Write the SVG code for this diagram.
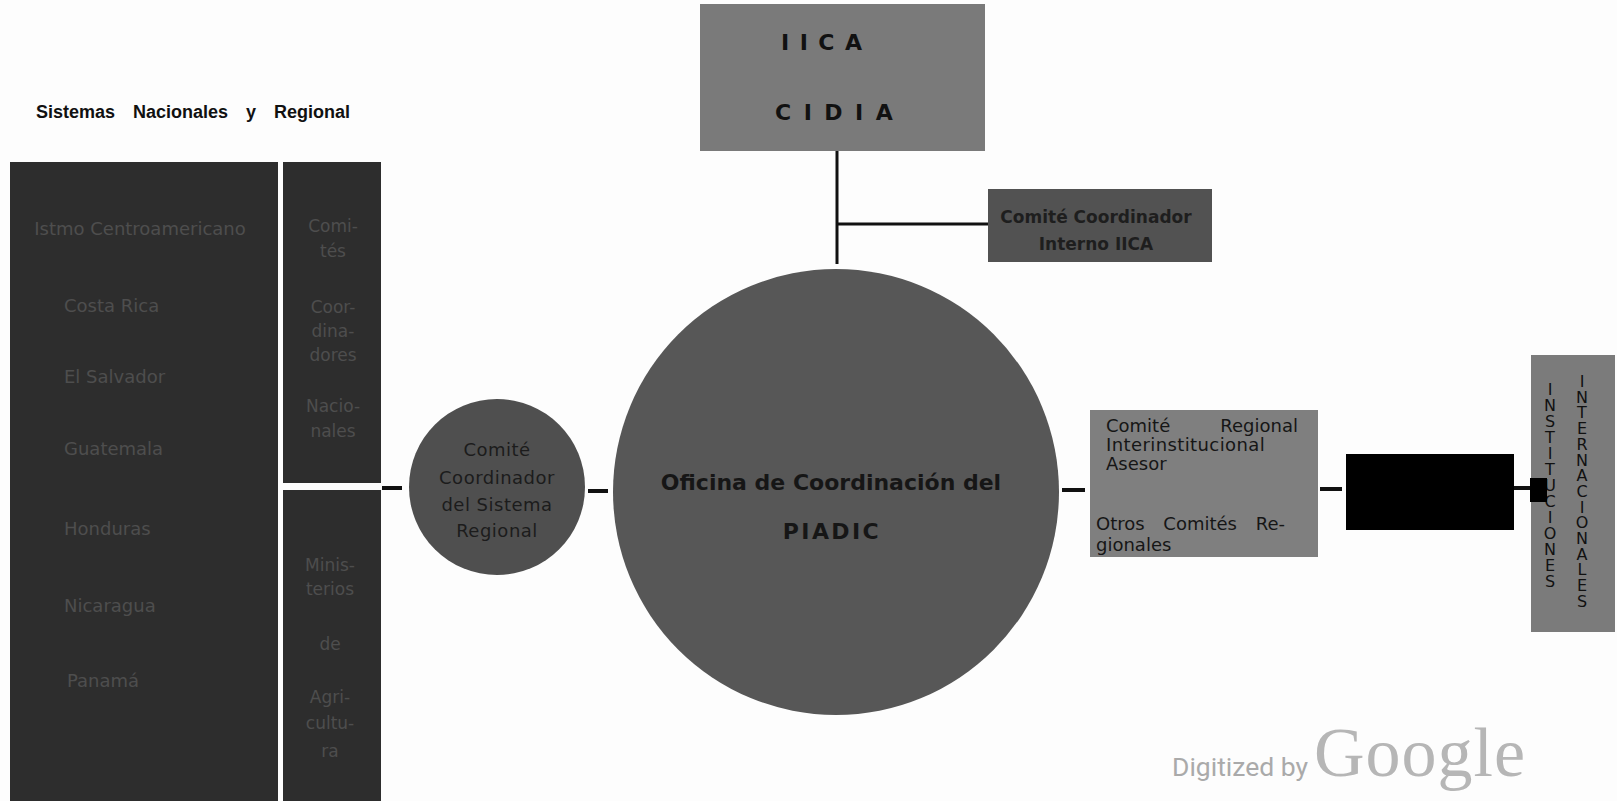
<svg xmlns="http://www.w3.org/2000/svg" width="1617" height="801" viewBox="0 0 1617 801">
<style>
text { font-family: "DejaVu Sans", "Liberation Sans", sans-serif; }
.dark { fill: #2d2d2d; }
.dtxt { fill: #4e4e4e; font-size: 18px; }
.ctxt { fill: #4e4e4e; font-size: 17px; text-anchor: middle; }
.conn { stroke: #111; stroke-width: 4; fill: none; }
.thin { stroke: #111; stroke-width: 3; fill: none; }
.vt { font-size: 16px; fill: #111; text-anchor: middle; }
.title { font-family: "Liberation Sans", Arial, sans-serif; font-size: 18px; font-weight: bold; fill: #111; word-spacing: 13px; }
.wm1 { font-family: Roboto, "Liberation Sans", sans-serif; font-size: 26.5px; fill: #aaaaaa; }
.wm2 { font-family: "Liberation Serif", "Times New Roman", serif; font-size: 70px; fill: #b6b6b6; letter-spacing: 1px; }
</style>
<rect width="1617" height="801" fill="#fdfdfd"/>

<g id="title">
<text class="title" x="36" y="118">Sistemas Nacionales y Regional</text>
</g>

<g id="paises">
<rect class="dark" x="10" y="162" width="268" height="639"/>
<text class="dtxt" x="140" y="235" text-anchor="middle">Istmo Centroamericano</text>
<text class="dtxt" x="64" y="312">Costa Rica</text>
<text class="dtxt" x="64" y="383">El Salvador</text>
<text class="dtxt" x="64" y="455">Guatemala</text>
<text class="dtxt" x="64" y="535">Honduras</text>
<text class="dtxt" x="64" y="612">Nicaragua</text>
<text class="dtxt" x="67" y="687">Panamá</text>
</g>

<g id="comites-nacionales">
<rect class="dark" x="283" y="162" width="98" height="321"/>
<text class="ctxt" x="333" y="232">Comi-</text>
<text class="ctxt" x="333" y="257">tés</text>
<text class="ctxt" x="333" y="313">Coor-</text>
<text class="ctxt" x="333" y="337">dina-</text>
<text class="ctxt" x="333" y="361">dores</text>
<text class="ctxt" x="333" y="412">Nacio-</text>
<text class="ctxt" x="333" y="437">nales</text>
</g>

<g id="ministerios">
<rect class="dark" x="283" y="490" width="98" height="311"/>
<text class="ctxt" x="330" y="571">Minis-</text>
<text class="ctxt" x="330" y="595">terios</text>
<text class="ctxt" x="330" y="650">de</text>
<text class="ctxt" x="330" y="703">Agri-</text>
<text class="ctxt" x="330" y="729">cultu-</text>
<text class="ctxt" x="330" y="757">ra</text>
</g>

<g id="comite-sistema-regional">
<circle cx="497" cy="487" r="88" fill="#4f4f4f"/>
<g font-size="18" fill="#1c1c1c" text-anchor="middle" letter-spacing="0.5">
<text x="497" y="456">Comité</text>
<text x="497" y="484">Coordinador</text>
<text x="497" y="511">del Sistema</text>
<text x="497" y="537">Regional</text>
</g>
</g>

<g id="oficina-piadic">
<circle cx="836" cy="492" r="223" fill="#575757"/>
<g font-size="22" font-weight="bold" fill="#161616" text-anchor="middle">
<text x="831" y="490">Oficina de Coordinación del</text>
<text x="832" y="539" letter-spacing="2.4">PIADIC</text>
</g>
</g>

<g id="iica-cidia">
<rect x="700" y="4" width="285" height="147" fill="#7a7a7a"/>
<g font-size="22" font-weight="bold" fill="#111">
<text x="781" y="50" letter-spacing="10.5">IICA</text>
<text x="775" y="120" letter-spacing="12.5">CIDIA</text>
</g>
</g>

<g id="comite-interno-iica">
<rect x="988" y="189" width="224" height="73" fill="#525252"/>
<g font-size="17" font-weight="bold" fill="#1e1e1e" text-anchor="middle">
<text x="1096" y="223">Comité Coordinador</text>
<text x="1096" y="250">Interno IICA</text>
</g>
</g>

<g id="comite-regional">
<rect x="1090" y="410" width="228" height="147" fill="#7f7f7f"/>
<g font-size="18" fill="#161616">
<text x="1106" y="432">Comité</text>
<text x="1298" y="432" text-anchor="end">Regional</text>
<text x="1106" y="451" letter-spacing="0.4">Interinstitucional</text>
<text x="1106" y="470">Asesor</text>
<text x="1096" y="530" word-spacing="13">Otros Comités Re-</text>
<text x="1096" y="551">gionales</text>
</g>
</g>

<g id="caja-negra">
<rect x="1346" y="454" width="168" height="76" fill="#000"/>
</g>

<g id="instituciones-internacionales">
<rect x="1531" y="355" width="84" height="277" fill="#7b7b7b"/>
<text class="vt" x="1550" y="395"><tspan x="1550">I</tspan><tspan x="1550" dy="16">N</tspan><tspan x="1550" dy="16">S</tspan><tspan x="1550" dy="16">T</tspan><tspan x="1550" dy="16">I</tspan><tspan x="1550" dy="16">T</tspan><tspan x="1550" dy="16">U</tspan><tspan x="1550" dy="16">C</tspan><tspan x="1550" dy="16">I</tspan><tspan x="1550" dy="16">O</tspan><tspan x="1550" dy="16">N</tspan><tspan x="1550" dy="16">E</tspan><tspan x="1550" dy="16">S</tspan></text>
<text class="vt" x="1582" y="387"><tspan x="1582">I</tspan><tspan x="1582" dy="15.7">N</tspan><tspan x="1582" dy="15.7">T</tspan><tspan x="1582" dy="15.7">E</tspan><tspan x="1582" dy="15.7">R</tspan><tspan x="1582" dy="15.7">N</tspan><tspan x="1582" dy="15.7">A</tspan><tspan x="1582" dy="15.7">C</tspan><tspan x="1582" dy="15.7">I</tspan><tspan x="1582" dy="15.7">O</tspan><tspan x="1582" dy="15.7">N</tspan><tspan x="1582" dy="15.7">A</tspan><tspan x="1582" dy="15.7">L</tspan><tspan x="1582" dy="15.7">E</tspan><tspan x="1582" dy="15.7">S</tspan></text>
<rect x="1530" y="478" width="17" height="24" fill="#000"/>
</g>

<g id="connectors">
<line class="conn" x1="382" y1="488" x2="402" y2="488"/>
<line class="conn" x1="588" y1="491" x2="608" y2="491"/>
<line class="conn" x1="1062" y1="490" x2="1085" y2="490"/>
<line class="conn" x1="1320" y1="489" x2="1342" y2="489"/>
<line class="conn" x1="1514" y1="488" x2="1530" y2="488"/>
<line class="thin" x1="837" y1="151" x2="837" y2="264"/>
<line class="thin" x1="837" y1="224" x2="988" y2="224"/>
</g>

<g id="watermark">
<text class="wm1" x="1172" y="776">Digitized by</text>
<text class="wm2" x="1314" y="776">Google</text>
</g>
</svg>
